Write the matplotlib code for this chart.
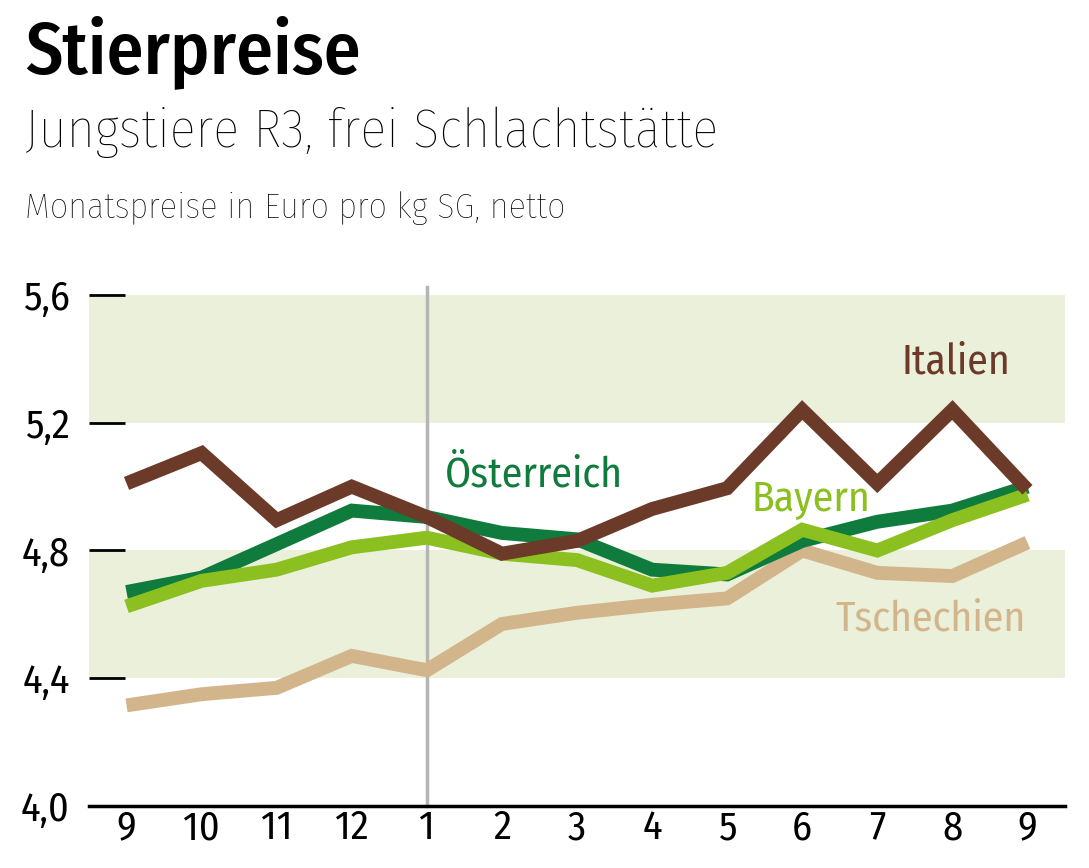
import matplotlib
matplotlib.use("Agg")
import matplotlib.pyplot as plt

months = ["9", "10", "11", "12", "1", "2", "3", "4", "5", "6", "7", "8", "9"]
italien = [5.01, 5.105, 4.895, 5.0, 4.905, 4.79, 4.83, 4.93, 4.995, 5.24, 5.01, 5.24, 4.99]
oesterreich = [4.67, 4.715, 4.82, 4.925, 4.905, 4.855, 4.835, 4.74, 4.725, 4.83, 4.89, 4.925, 5.0]
bayern = [4.625, 4.705, 4.74, 4.81, 4.84, 4.79, 4.77, 4.69, 4.73, 4.865, 4.80, 4.895, 4.975]
tschechien = [4.315, 4.35, 4.37, 4.47, 4.425, 4.57, 4.605, 4.63, 4.65, 4.80, 4.73, 4.72, 4.825]
yticks = [4.0, 4.4, 4.8, 5.2, 5.6]
ytick_labels = ["4,0", "4,4", "4,8", "5,2", "5,6"]

FONT = ["Fira Sans Condensed", "IBM Plex Sans Condensed", "DejaVu Sans"]
plt.rcParams['font.family'] = FONT

fig = plt.figure(figsize=(10.89, 8.68), dpi=100)
ax = fig.add_axes([89/1089, 1-806/868, (1065-89)/1089, (806-295)/868])
x = list(range(len(months)))

ax.axhspan(4.4, 4.8, color="#EAF0DA", zorder=0, lw=0)
ax.axhspan(5.2, 5.6, color="#EAF0DA", zorder=0, lw=0)
ax.axvline(4, ymin=0, ymax=1.015, color="#B5B5B5", lw=2.5, zorder=1, clip_on=False)

lw = 10
kw = dict(lw=lw, solid_joinstyle="miter", solid_capstyle="butt")
ax.plot(x, tschechien, color="#D3B58C", zorder=2, **kw)
ax.plot(x, oesterreich, color="#0F7B3C", zorder=3, **kw)
ax.plot(x, bayern, color="#8CC020", zorder=4, **kw)
ax.plot(x, italien, color="#6C3A29", zorder=5, **kw)

ax.set_xlim(-0.5, 12.5)
ax.set_ylim(4.0, 5.6)
ax.set_xticks(x)
ax.set_xticklabels(months, fontsize=29)
ax.set_yticks(yticks)
ax.set_yticklabels(ytick_labels, fontsize=29)
ax.tick_params(axis="x", length=0, pad=2)
ax.tick_params(axis="y", direction="in", length=26, width=2, pad=14, color="black")
for s in ["top", "right", "left"]:
    ax.spines[s].set_visible(False)
ax.spines["bottom"].set_linewidth(2.5)

lab_fs = 30
ax.text(11.05, 5.39, "Italien", color="#6C3A29", fontsize=lab_fs, ha="center", va="center")
ax.text(5.43, 5.035, "Österreich", color="#0F7B3C", fontsize=lab_fs, ha="center", va="center")
ax.text(9.12, 4.96, "Bayern", color="#8CC020", fontsize=lab_fs, ha="center", va="center")
ax.text(10.71, 4.585, "Tschechien", color="#D3B58C", fontsize=lab_fs, ha="center", va="center")

fig.text(25/1089, 1-52/868, "Stierpreise", fontsize=53, fontweight="medium", va="center", ha="left")
fig.text(25/1089, 1-132/868, "Jungstiere R3, frei Schlachtstätte", fontsize=39, fontweight="light", va="center", ha="left")
fig.text(25/1089, 1-208/868, "Monatspreise in Euro pro kg SG, netto", fontsize=26, fontweight="light", va="center", ha="left", color="#000000")

fig.savefig("out.png", dpi=100)
